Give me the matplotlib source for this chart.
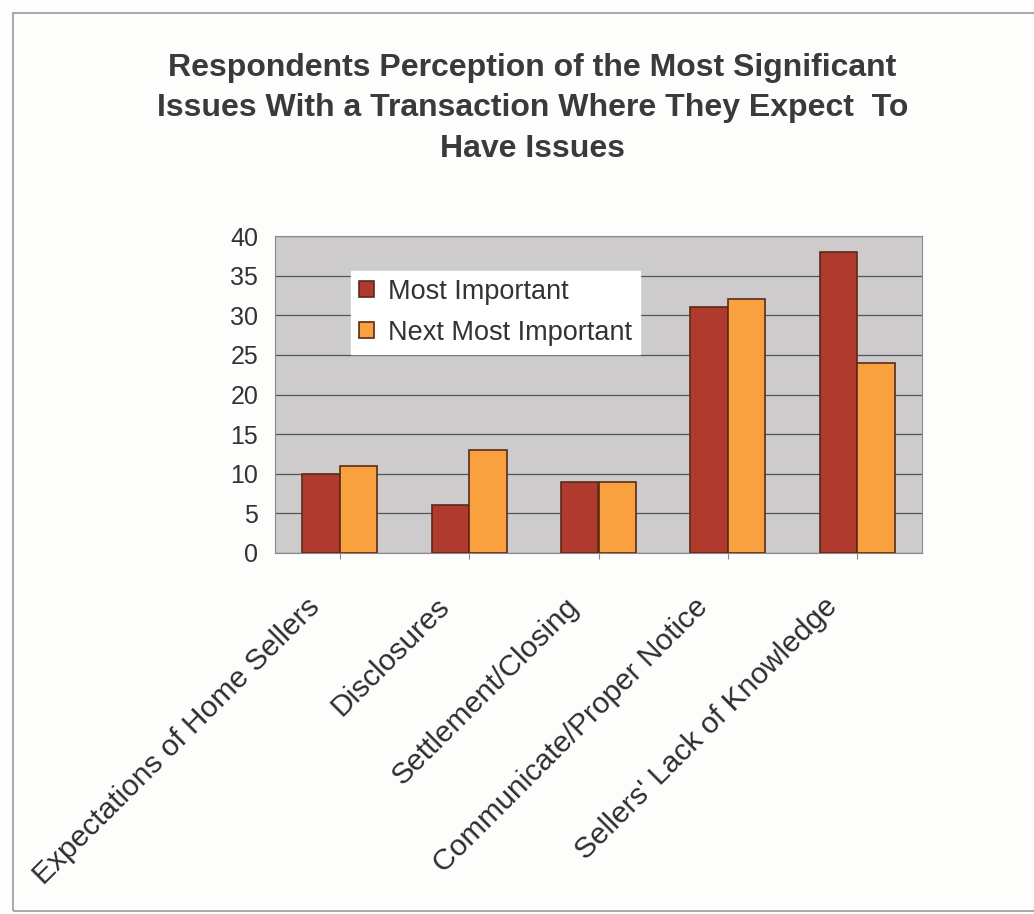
import matplotlib
matplotlib.use('Agg')
import matplotlib.pyplot as plt
import matplotlib.transforms as mtransforms
import numpy as np
from matplotlib.patches import Rectangle

categories = ["Expectations of Home Sellers", "Disclosures", "Settlement/Closing",
              "Communicate/Proper Notice", "Sellers' Lack of Knowledge"]
most_important = [10, 6, 9, 31, 38]
next_most_important = [11, 13, 9, 32, 24]
series_names = ["Most Important", "Next Most Important"]

plt.rcParams['font.family'] = ['Liberation Sans', 'DejaVu Sans']

fig = plt.figure(figsize=(10.34, 9.14), dpi=100)
fig.patch.set_facecolor('#fdfdfb')

# page border from the scan
fig.patches.append(Rectangle((13 / 1034, 3 / 914), 1.05, 898 / 914, transform=fig.transFigure,
                             fill=False, edgecolor='#a8a8a8', linewidth=1.4))

ax = fig.add_axes([275 / 1034, 1 - 553 / 914, 647 / 1034, 317 / 914])
ax.set_facecolor('#cdcbcb')

x = np.arange(len(categories))
w = 0.29
ax.bar(x - w / 2, most_important, w, color='#b03a2e', edgecolor='#5a2a18',
       linewidth=1.2, label=series_names[0], zorder=3)
ax.bar(x + w / 2, next_most_important, w, color='#f9a03f', edgecolor='#5a2a18',
       linewidth=1.2, label=series_names[1], zorder=3)

ax.set_xlim(-0.5, len(categories) - 0.5)
ax.set_ylim(0, 40)
ax.set_yticks(range(0, 41, 5))
ax.yaxis.grid(True, color='#555555', linewidth=0.9, zorder=1)
ax.tick_params(axis='y', length=0, labelsize=18, colors='#333333', pad=12)
ax.tick_params(axis='x', length=4, color='#888888')
ax.set_xticks(x)
ax.set_xticklabels(categories, rotation=45, ha='right', rotation_mode='anchor',
                   fontsize=21.5, color='#2e2e2e')
shift = mtransforms.ScaledTranslation(-34 / 100, -29 / 100, fig.dpi_scale_trans)
for lab in ax.get_xticklabels():
    lab.set_transform(lab.get_transform() + shift)
for s in ax.spines.values():
    s.set_color('#888888')
    s.set_linewidth(0.8)

leg = ax.legend(loc='upper left', bbox_to_anchor=(0.097, 0.933), fontsize=19.5,
                frameon=True, fancybox=False, framealpha=1, edgecolor='white',
                handlelength=0.55, handleheight=0.55, handletextpad=0.5,
                borderpad=0.3, labelspacing=0.55)
for t in leg.get_texts():
    t.set_color('#333333')

fig.text(0.515, 0.942, "Respondents Perception of the Most Significant\n"
         "Issues With a Transaction Where They Expect  To\nHave Issues",
         ha='center', va='top', fontsize=23, fontweight='bold', color='#3a3a3a',
         linespacing=1.45)

fig.savefig('out.png', dpi=100, facecolor=fig.get_facecolor())
